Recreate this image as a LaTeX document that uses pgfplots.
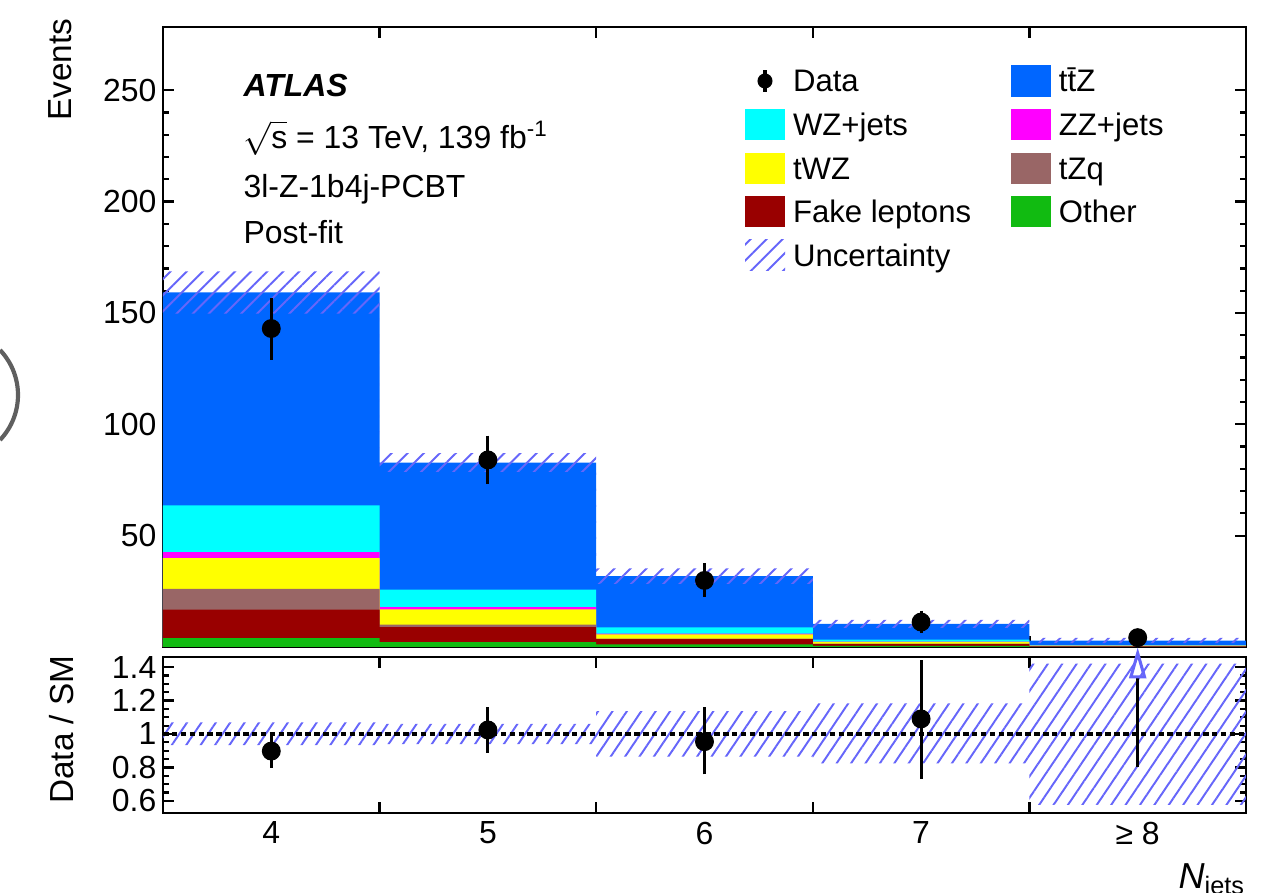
\documentclass[border=0pt]{standalone}
\usepackage{fontspec}
\setmainfont{Liberation Sans}
\usepackage{pgfplots}
\usepackage{pgfplotstable}
\pgfplotsset{compat=1.18}
\usetikzlibrary{patterns.meta}

\definecolor{cttz}{RGB}{0,102,255}
\definecolor{cwz}{RGB}{0,255,255}
\definecolor{czz}{RGB}{255,0,255}
\definecolor{ctwz}{RGB}{255,255,0}
\definecolor{ctzq}{RGB}{153,102,102}
\definecolor{cfake}{RGB}{153,0,0}
\definecolor{cother}{RGB}{17,187,17}
\definecolor{hatch}{RGB}{102,102,250}
\definecolor{arcgray}{RGB}{95,95,95}

% per-bin yields (bin left edge; last row repeated at right edge)
\pgfplotstableread{
x   other fake tzq  twz  zz   wz   ttz
3.5 4.0   12.8 9.3  13.8 2.7  21.0 95.6
4.5 2.2   6.7  1.2  6.8  1.0  7.9  57.0
5.5 1.2   2.3  0.3  1.9  0.3  2.8  23.0
6.5 0.5   0.8  0.2  0.8  0.1  0.9  7.1
7.5 0.1   0.2  0.05 0.3  0.02 0.2  2.0
8.5 0.1   0.2  0.05 0.3  0.02 0.2  2.0
}\stacktab

\pgfplotstableread{
x y     ep   em
4 143.0 12.3 12.3
5 84.0  9.3  9.3
6 29.9  6.0  5.7
7 11.2  3.5  3.4
8 4.2   2.1  2.0
}\datatab

\pgfplotstableread{
x y     ep    em
4 0.898 0.082 0.078
5 1.024 0.113 0.114
6 0.954 0.183 0.174
7 1.090 0.330 0.335
}\ratiotab

\newcommand{\tfont}{\fontsize{11.5}{13.8}\selectfont}
\newcommand{\lfont}{\fontsize{12}{14.4}\selectfont}

\begin{document}
\begin{tikzpicture}
\useasboundingbox (0pt,0pt) rectangle (455.76pt,321.48pt);

% ---------------- main panel ----------------
\begin{axis}[
  at={(58.68pt,88.56pt)}, anchor=south west,
  scale only axis, width=389.88pt, height=223.2pt,
  xmin=3.5, xmax=8.5, ymin=0, ymax=278.4,
  xtick={4.5,5.5,6.5,7.5}, xticklabels={},
  ytick={50,100,150,200,250}, minor y tick num=4,
  major tick length=4pt, minor tick length=2pt,
  tick align=inside,
  axis line style={line width=0.9pt},
  tick style={black, line width=0.8pt},
  /pgf/number format/assume math mode=true,
  ticklabel style={font=\tfont},
  yticklabel style={inner sep=2.2pt},
  ylabel={Events},
  ylabel style={at={(rel axis cs:-0.0951,1.014)}, rotate=0, anchor=east, inner sep=0pt, font=\lfont},
  legend columns=2,
  legend cell align=left,
  legend style={at={(rel axis cs:0.5374,0.938)}, anchor=north west, draw=none, fill=none,
    inner sep=0pt, outer sep=0pt, font=\fontsize{11.2}{13}\selectfont, row sep=4.5pt,
    nodes={inner sep=0pt, text height=9.4pt, text depth=1.6pt},
    /tikz/every odd column/.append style={column sep=2.9pt},
    /tikz/every even column/.append style={column sep=14.3pt}},
]
% stacked histogram (cumulative, drawn from the top layer down)
\addplot[const plot, fill=cttz, draw=none, forget plot] table[x=x, y expr=\thisrow{other}+\thisrow{fake}+\thisrow{tzq}+\thisrow{twz}+\thisrow{zz}+\thisrow{wz}+\thisrow{ttz}] {\stacktab} \closedcycle;
\addplot[const plot, fill=cwz, draw=none, forget plot] table[x=x, y expr=\thisrow{other}+\thisrow{fake}+\thisrow{tzq}+\thisrow{twz}+\thisrow{zz}+\thisrow{wz}] {\stacktab} \closedcycle;
\addplot[const plot, fill=czz, draw=none, forget plot] table[x=x, y expr=\thisrow{other}+\thisrow{fake}+\thisrow{tzq}+\thisrow{twz}+\thisrow{zz}] {\stacktab} \closedcycle;
\addplot[const plot, fill=ctwz, draw=none, forget plot] table[x=x, y expr=\thisrow{other}+\thisrow{fake}+\thisrow{tzq}+\thisrow{twz}] {\stacktab} \closedcycle;
\addplot[const plot, fill=ctzq, draw=none, forget plot] table[x=x, y expr=\thisrow{other}+\thisrow{fake}+\thisrow{tzq}] {\stacktab} \closedcycle;
\addplot[const plot, fill=cfake, draw=none, forget plot] table[x=x, y expr=\thisrow{other}+\thisrow{fake}] {\stacktab} \closedcycle;
\addplot[const plot, fill=cother, draw=none, forget plot] table[x=x, y=other] {\stacktab} \closedcycle;

% uncertainty band
\addplot[draw=none, forget plot, pattern={Lines[angle=45,distance=4.1pt,line width=0.7pt]}, pattern color=hatch]
 coordinates {(3.5,149.7) (4.5,149.7) (4.5,78.6) (5.5,78.6) (5.5,28.3) (6.5,28.3) (6.5,8.6) (7.5,8.6) (7.5,1.7) (8.5,1.7)
              (8.5,4.1) (7.5,4.1) (7.5,12.2) (6.5,12.2) (6.5,35.3) (5.5,35.3) (5.5,87.0) (4.5,87.0) (4.5,168.7) (3.5,168.7)} --cycle;

% data
\addplot[only marks, mark=*, mark size=3.2pt, black, forget plot,
  error bars/.cd, y dir=both, y explicit,
  error bar style={line width=1.1pt, black},
  error mark options={line width=1.1pt, mark size=1.3pt, black}]
  table[x=x, y=y, y error plus=ep, y error minus=em] {\datatab};

% legend
\addlegendimage{legend image code/.code={\draw[black,line width=1.1pt] (7.2pt,-3.8pt)--(7.2pt,3.8pt); \fill[black] (7.2pt,0pt) circle (2.5pt);}}
\addlegendentry{Data}
\addlegendimage{legend image code/.code={\fill[cttz, draw=none] (0pt,-5.6pt) rectangle (14.4pt,5.6pt);}}
\addlegendentry{t\={t}Z}
\addlegendimage{legend image code/.code={\fill[cwz, draw=none] (0pt,-5.6pt) rectangle (14.4pt,5.6pt);}}
\addlegendentry{WZ+jets}
\addlegendimage{legend image code/.code={\fill[czz, draw=none] (0pt,-5.6pt) rectangle (14.4pt,5.6pt);}}
\addlegendentry{ZZ+jets}
\addlegendimage{legend image code/.code={\fill[ctwz, draw=none] (0pt,-5.6pt) rectangle (14.4pt,5.6pt);}}
\addlegendentry{tWZ}
\addlegendimage{legend image code/.code={\fill[ctzq, draw=none] (0pt,-5.6pt) rectangle (14.4pt,5.6pt);}}
\addlegendentry{tZq}
\addlegendimage{legend image code/.code={\fill[cfake, draw=none] (0pt,-5.6pt) rectangle (14.4pt,5.6pt);}}
\addlegendentry{Fake leptons}
\addlegendimage{legend image code/.code={\fill[cother, draw=none] (0pt,-5.6pt) rectangle (14.4pt,5.6pt);}}
\addlegendentry{Other}
\addlegendimage{legend image code/.code={\path[draw=none, pattern={Lines[angle=45,distance=4.1pt,line width=0.7pt]}, pattern color=hatch] (0pt,-5.6pt) rectangle (14.4pt,5.6pt);}}
\addlegendentry{Uncertainty}

% labels
\node[anchor=base west, inner sep=0pt, font=\tfont] at (rel axis cs:0.0739,0.8879) {\textbf{\textit{ATLAS}}};
\node[anchor=base west, inner sep=0pt, font=\tfont] at (rel axis cs:0.0739,0.8040) {\ensuremath{\sqrt{\mbox{s}}} = 13 TeV, 139 fb\textsuperscript{-1}};
\node[anchor=base west, inner sep=0pt, font=\tfont] at (rel axis cs:0.0739,0.7250) {3l-Z-1b4j-PCBT};
\node[anchor=base west, inner sep=0pt, font=\tfont] at (rel axis cs:0.0739,0.6508) {Post-fit};
\end{axis}

% ---------------- ratio panel ----------------
\begin{axis}[
  at={(58.68pt,28.8pt)}, anchor=south west,
  scale only axis, width=389.88pt, height=56.16pt,
  xmin=3.5, xmax=8.5, ymin=0.528, ymax=1.46,
  xtick={4.5,5.5,6.5,7.5}, xticklabels={},
  extra x ticks={4,5,6,7,8}, extra x tick labels={4,5,6,7,{≥ 8}},
  extra x tick style={major tick length=0pt},
  ytick={0.6,0.8,1,1.2,1.4}, minor y tick num=3,
  major tick length=4pt, minor tick length=2pt,
  tick align=inside,
  axis line style={line width=0.9pt},
  tick style={black, line width=0.8pt},
  /pgf/number format/assume math mode=true,
  ticklabel style={font=\tfont},
  yticklabel style={inner sep=2.2pt},
  xticklabel style={inner sep=3pt},
  clip=false,
  xlabel={\textit{N}\textsubscript{jets}},
  xlabel style={at={(rel axis cs:1,-0.481)}, anchor=base east, inner sep=0pt, font=\fontsize{13}{15}\selectfont},
  ylabel={Data / SM},
  ylabel style={at={(rel axis cs:-0.0933,1.013)}, anchor=east, inner sep=0pt, font=\lfont},
]
\addplot[draw=none, forget plot, pattern={Lines[angle=56,distance=4.3pt,line width=0.7pt]}, pattern color=hatch]
 coordinates {(3.5,0.934) (4.5,0.934) (4.5,0.94) (5.5,0.94) (5.5,0.865) (6.5,0.865) (6.5,0.825) (7.5,0.825) (7.5,0.576) (8.5,0.576)
              (8.5,1.42) (7.5,1.42) (7.5,1.183) (6.5,1.183) (6.5,1.137) (5.5,1.137) (5.5,1.06) (4.5,1.06) (4.5,1.07) (3.5,1.07)} --cycle;
\addplot[black, line width=1.1pt, dash pattern=on 2pt off 1.2pt, forget plot] coordinates {(3.5,1) (8.5,1)};
\addplot[only marks, mark=*, mark size=3.2pt, black, forget plot,
  error bars/.cd, y dir=both, y explicit,
  error bar style={line width=1.1pt, black},
  error mark options={line width=1.1pt, mark size=1.3pt, black}]
  table[x=x, y=y, y error plus=ep, y error minus=em] {\ratiotab};
% last bin: point off scale, error bar and arrow
\addplot[draw=none, forget plot,
  error bars/.cd, y dir=minus, y explicit,
  error bar style={line width=1.1pt, black},
  error mark options={line width=1.1pt, mark size=1.3pt, black}]
  coordinates {(8,1.342) +- (0,0.517)};
\addplot[only marks, mark=triangle, mark size=5.7pt, forget plot,
  mark options={xscale=0.5, draw=hatch, fill=white, line width=1.1pt}]
  coordinates {(8,1.388)};
\end{axis}

% stray arc at the left page edge
\draw[arcgray, line width=1.5pt] (-17.01pt,179.28pt) ++(43.6:23.49pt) arc[start angle=43.6, end angle=-43.6, radius=23.49pt];
\end{tikzpicture}
\end{document}
